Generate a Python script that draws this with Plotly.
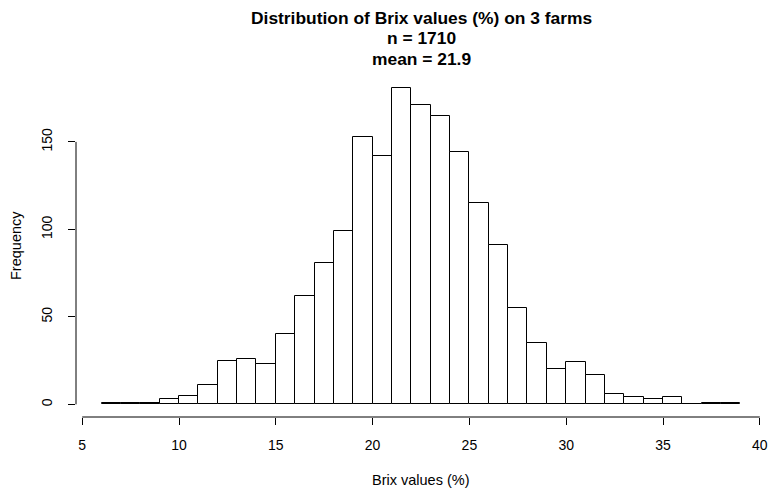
import numpy as np
import plotly.graph_objects as go

bin_edges = list(range(6, 40))  # 6..39
counts = [1, 1, 1, 3, 5, 11, 25, 26, 23, 40, 62, 81, 99, 153, 142, 181, 171,
          165, 144, 115, 91, 55, 35, 20, 24, 17, 6, 4, 3, 4, 0, 1, 1]
x_ticks = [5, 10, 15, 20, 25, 30, 35, 40]
y_ticks = [0, 50, 100, 150]
title_lines = ["Distribution of Brix values (%) on 3 farms", "n = 1710", "mean = 21.9"]

lefts = np.array(bin_edges[:-1], dtype=float)
rights = np.array(bin_edges[1:], dtype=float)
centers = (lefts + rights) / 2
widths = rights - lefts

xmin, xmax = bin_edges[0], bin_edges[-1]
xpad = 0.04 * (xmax - xmin)
ymax = max(counts)
ypad = 0.04 * ymax

FONT = "Liberation Sans, Arial, sans-serif"
TICK_SIZE = 14
LAB_SIZE = 14.5
TITLE_SIZE = 17.4

fig = go.Figure()
fig.add_trace(go.Bar(
    x=centers, y=counts, width=widths,
    marker=dict(color="white", line=dict(color="black", width=1)),
    hoverinfo="x+y",
))

title_shifts = [57.5, 37, 16.5]
annotations = []
for line, ys in zip(title_lines, title_shifts):
    annotations.append(dict(
        text="<b>" + line + "</b>",
        xref="paper", yref="paper", x=0.5, y=1, yshift=ys,
        xanchor="center", yanchor="middle", showarrow=False,
        font=dict(family=FONT, size=TITLE_SIZE, color="black"),
    ))
annotations += [dict(
    text="Brix values (%)", xref="paper", yref="paper", x=0.5, y=0,
    yshift=-63, xanchor="center", yanchor="middle", showarrow=False,
    font=dict(family=FONT, size=LAB_SIZE),
), dict(
    text="Frequency", xref="paper", yref="paper", x=0, y=0.5,
    xshift=-60, textangle=-90, xanchor="center", yanchor="middle",
    showarrow=False, font=dict(family=FONT, size=LAB_SIZE),
)]

fig.update_layout(
    width=773, height=491,
    margin=dict(l=76, r=5, t=75, b=74),
    paper_bgcolor="white", plot_bgcolor="white",
    showlegend=False,
    bargap=0,
    font=dict(family=FONT, size=TICK_SIZE, color="black"),
    annotations=annotations,
)

fig.update_xaxes(
    range=[xmin - xpad, xmax + xpad], tickvals=x_ticks,
    ticks="outside", ticklen=7, tickcolor="black", tickwidth=1,
    ticklabelstandoff=8,
    showgrid=False, zeroline=False, showline=False,
    tickfont=dict(family=FONT, size=TICK_SIZE), fixedrange=True,
)
fig.update_yaxes(
    range=[-ypad, ymax + ypad], tickvals=y_ticks,
    ticks="outside", ticklen=7, tickcolor="black", tickwidth=1,
    ticklabelstandoff=10,
    tickangle=-90, showgrid=False, zeroline=False, showline=False,
    tickfont=dict(family=FONT, size=TICK_SIZE), fixedrange=True,
)

# axis lines spanning only the tick range (R style)
fig.add_shape(type="line", xref="x", yref="paper",
              x0=x_ticks[0], x1=x_ticks[-1], y0=0, y1=0,
              line=dict(color="black", width=1))
fig.add_shape(type="line", xref="paper", yref="y",
              x0=0, x1=0, y0=y_ticks[0], y1=y_ticks[-1],
              line=dict(color="black", width=1))

fig.write_html("out.html")
